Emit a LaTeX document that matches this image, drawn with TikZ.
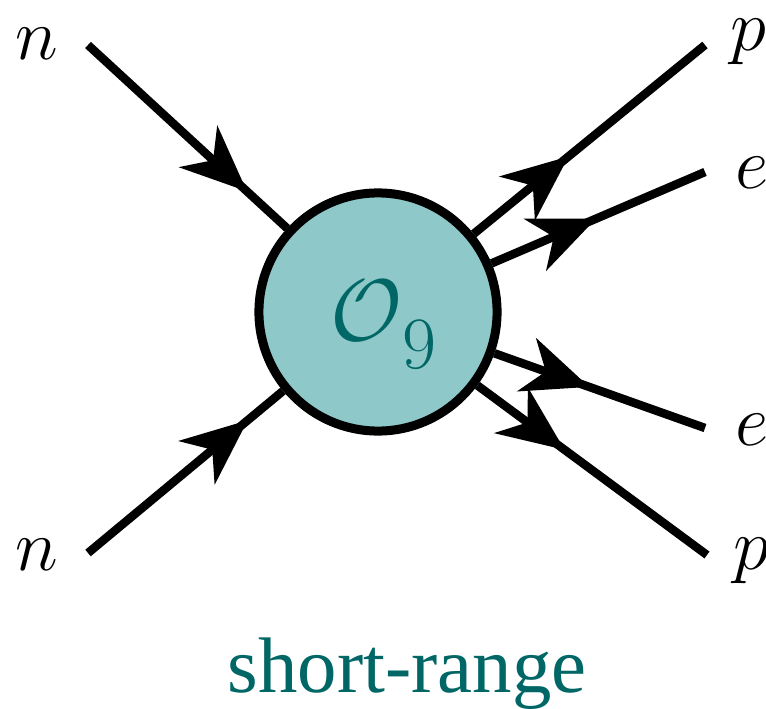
\documentclass[tikz,border=0pt]{standalone}
\usepackage{fontspec}
\newfontfamily\capfont{Liberation Serif}
\usetikzlibrary{arrows.meta, decorations.markings}
\definecolor{blobfill}{RGB}{142,200,200}
\definecolor{blobtext}{RGB}{0,102,102}
\tikzset{
	fermion/.style={line width=0.085cm, postaction={decorate},
		decoration={markings, mark=at position #1 with {\arrow{Stealth[length=0.66cm, width=0.56cm, inset=0.2cm]}}}},
	blobstyle/.style={shape=circle, draw, fill=blobfill, line width=0.09cm, minimum size=2.38cm, inner sep=0pt},
	leg/.style={font=\fontsize{21}{25}\selectfont, inner sep=0pt}
}

\begin{document}
\begin{tikzpicture}[x=0.01cm, y=-0.01cm]
	\useasboundingbox (0,0) rectangle (766,709);
	% Blob and its label:
	\node[blobstyle] (blob) at (378, 312){};
	\node[anchor=base west, inner sep=0pt, text=blobtext] (op) at (330, 340){\fontsize{28}{30}\selectfont$\mathcal{O}$\raisebox{-0.28cm}{\fontsize{21}{21}\selectfont 9}};
	% Ends of the legs:
	\coordinate (n1) at (88, 45);
	\coordinate (n2) at (88, 553);
	\coordinate (p1) at (705, 45);
	\coordinate (e1) at (705, 172);
	\coordinate (e2) at (705, 428);
	\coordinate (p2) at (707, 555);
	% Legs:
	\draw[fermion=0.8] (n1) -- (blob);
	\draw[fermion=0.82] (n2) -- (blob);
	\draw[fermion=0.41] (blob) -- (p1);
	\draw[fermion=0.49] (blob) -- (e1);
	\draw[fermion=0.45] (blob) -- (e2);
	\draw[fermion=0.38] (blob) -- (p2);
	% Particle labels:
	\node[leg, anchor=base] (ln1) at (37, 59){$n$};
	\node[leg, anchor=base] (ln2) at (37, 570){$n$};
	\node[leg, anchor=base west] (lp1) at (730, 51){$p$};
	\node[leg, anchor=base west] (le1) at (735, 188){$e$};
	\node[leg, anchor=base west] (le2) at (735, 445){$e$};
	\node[leg, anchor=base west] (lp2) at (733, 569){$p$};
	% Caption:
	\node[anchor=base, inner sep=0pt, text=blobtext, font=\capfont\fontsize{22.4}{27}\selectfont] (cap) at (407, 692){short-range};
\end{tikzpicture}
\end{document}
